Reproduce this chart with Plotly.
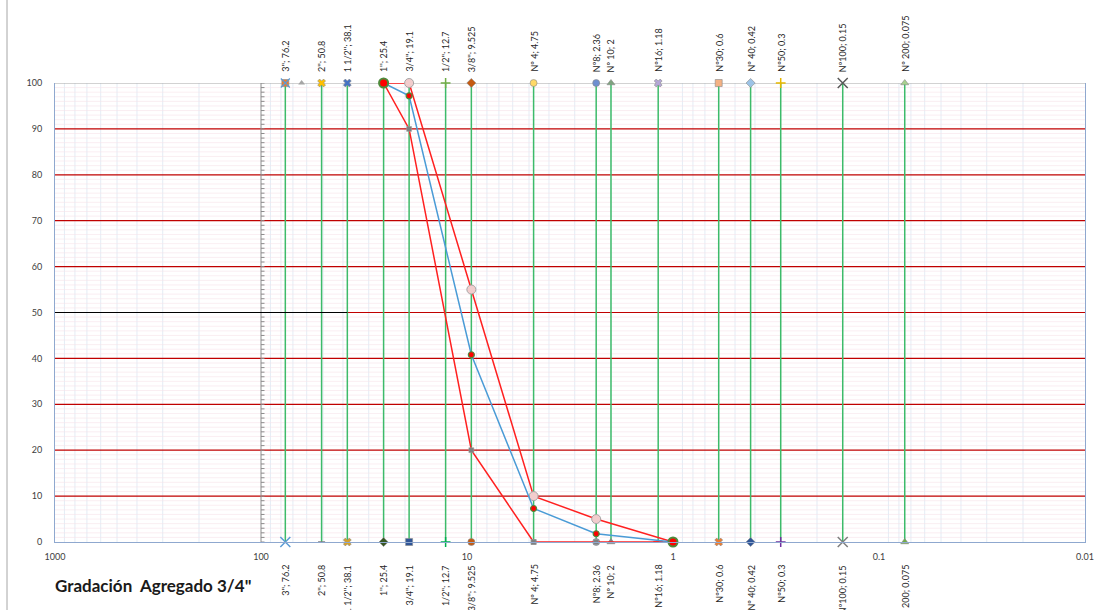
import math
import plotly.graph_objects as go

# ---------------- data ----------------
sieve_names = ["3''", "2''", "1 1/2''", "1''", "3/4''", "1/2''", "3/8''", "Nº 4", "Nº8",
               "Nº 10", "Nº16", "Nº30", "Nº 40", "Nº50", "Nº100", "Nº 200"]
sieve_mm = [76.2, 50.8, 38.1, 25.4, 19.1, 12.7, 9.525, 4.75, 2.36, 2, 1.18, 0.6, 0.42, 0.3, 0.15, 0.075]
extra_top_mm = [63.5]

curve_mm = [25.4, 19.1, 9.525, 4.75, 2.36, 1.0]
upper_limit = [100, 100, 55, 10, 5, 0]
lower_limit = [100, 90, 20, 0, 0, 0]
passing = [100, 97.2, 40.8, 7.3, 1.8, 0]

black_x = [1000, 38.1]
black_y = [50, 50]

x_ticks = [1000, 100, 10, 1, 0.1, 0.01]
x_ticktext = ["1000", "100", "10", "1", "0.1", "0.01"]
y_ticks = [0, 10, 20, 30, 40, 50, 60, 70, 80, 90, 100]

title_text = "Gradación&nbsp; Agregado 3/4\""

# ---------------- styles ----------------
FONT = "Lato, Liberation Sans, sans-serif"
top_sym = ["square", "x", "x", "circle", "circle", "cross-thin", "diamond", "circle", "circle",
           "triangle-up", "x", "square", "diamond", "cross-thin", "x-thin", "triangle-up"]
top_col = ["#ED7D31", "#FFC000", "#4472C4", "#70AD47", "#F4C7C3", "#70AD47", "#C55A11", "#FFD966",
           "#6F8FD0", "#7FA37F", "#B4A7D6", "#F4B183", "#9DC3E6", "#E6B800", "#595959", "#A9D18E"]
bot_sym = ["x-thin", "line-ew", "x", "diamond", "square", "cross-thin", "circle", "square", "circle",
           "triangle-up", "line-ew", "x", "diamond", "cross-thin", "x-thin", "triangle-up"]
bot_col = ["#5B9BD5", "#7F7F7F", "#D6A12B", "#375623", "#2F5597", "#00B050", "#C55A11", "#7F7F7F",
           "#8497B0", "#7F7F7F", "#FF0000", "#ED7D31", "#2F5597", "#7030A0", "#7F7F7F", "#70AD47"]

fig = go.Figure()

# minor vertical grid (2..9 per decade)
vx, vy = [], []
for e in range(-2, 3):
    for m in range(2, 10):
        v = m * 10 ** e
        vx += [v, v, None]
        vy += [0, 100, None]
fig.add_trace(go.Scatter(x=vx, y=vy, mode="lines", line=dict(color="#DDE7F3", width=0.8),
                         hoverinfo="skip", showlegend=False))

# minor horizontal grid every 1 unit
hx, hy = [], []
for k in range(1, 100):
    if k % 10:
        hx += [1000, 0.01, None]
        hy += [k, k, None]
fig.add_trace(go.Scatter(x=hx, y=hy, mode="lines", line=dict(color="#F7E3EA", width=0.6),
                         hoverinfo="skip", showlegend=False))

# major horizontal grid
mx, my = [], []
for k in y_ticks[1:-1]:
    mx += [1000, 0.01, None]
    my += [k, k, None]
fig.add_trace(go.Scatter(x=mx, y=my, mode="lines", line=dict(color="#C00000", width=1.2),
                         hoverinfo="skip", showlegend=False))

# top border (grey)
fig.add_trace(go.Scatter(x=[1000, 0.01], y=[100, 100], mode="lines",
                         line=dict(color="#A6A6A6", width=1.2), cliponaxis=False,
                         hoverinfo="skip", showlegend=False))

# secondary axis line at x=100 with ticks
ax_x, ax_y = [100, 100, None], [0, 100, None]
for k in range(0, 101):
    ax_x += [100, 100 * 10 ** (-3.5 / 206), None]
    ax_y += [k, k, None]
fig.add_trace(go.Scatter(x=ax_x, y=ax_y, mode="lines", line=dict(color="#8C8C8C", width=1),
                         hoverinfo="skip", showlegend=False))

# green sieve lines
gx, gy = [], []
for s in sieve_mm:
    gx += [s, s, None]
    gy += [0, 100, None]
fig.add_trace(go.Scatter(x=gx, y=gy, mode="lines", line=dict(color="#3DBB6A", width=1.5),
                         hoverinfo="skip", showlegend=False))

# black segment at 50
fig.add_trace(go.Scatter(x=black_x, y=black_y, mode="lines", line=dict(color="#000000", width=1.2),
                         hoverinfo="skip", showlegend=False))


def sym_marker(sym, col, size):
    thin = sym.endswith("-thin") or sym.startswith("line")
    if thin:
        return dict(symbol=sym, size=size, color=col, line=dict(color=col, width=1.5))
    return dict(symbol=sym, size=size, color=col, line=dict(color="#8a8a8a", width=0.6))


for i, s in enumerate(sieve_mm):
    sz = 10 if top_sym[i] == "x-thin" else 7
    fig.add_trace(go.Scatter(x=[s], y=[100], mode="markers", marker=sym_marker(top_sym[i], top_col[i], sz),
                             cliponaxis=False, hoverinfo="skip", showlegend=False))
    szb = 10 if bot_sym[i] == "x-thin" else 7
    if bot_sym[i] in ("line-ew", "square") and bot_col[i] == "#7F7F7F":
        szb = 5
    fig.add_trace(go.Scatter(x=[s], y=[0], mode="markers", marker=sym_marker(bot_sym[i], bot_col[i], szb),
                             cliponaxis=False, hoverinfo="skip", showlegend=False))
fig.add_trace(go.Scatter(x=[sieve_mm[0]], y=[100], mode="markers",
                         marker=dict(symbol="x-thin", size=9, line=dict(color="#5B9BD5", width=1.2)),
                         cliponaxis=False, hoverinfo="skip", showlegend=False))
fig.add_trace(go.Scatter(x=extra_top_mm, y=[100], mode="markers",
                         marker=dict(symbol="triangle-up", size=6, color="#A6A6A6"),
                         cliponaxis=False, hoverinfo="skip", showlegend=False))

# limits and gradation curve
fig.add_trace(go.Scatter(x=curve_mm, y=lower_limit, mode="lines+markers",
                         line=dict(color="#FF2020", width=1.5),
                         marker=dict(symbol="square", size=5, color="#7F7F7F",
                                     line=dict(color="#A0A0A0", width=0.5)),
                         cliponaxis=False, hoverinfo="skip", showlegend=False))
fig.add_trace(go.Scatter(x=curve_mm, y=upper_limit, mode="lines+markers",
                         line=dict(color="#FF2020", width=1.5),
                         marker=dict(symbol="circle", size=9, color="#F2CDCD",
                                     line=dict(color="#A6A6A6", width=1)),
                         cliponaxis=False, hoverinfo="skip", showlegend=False))
fig.add_trace(go.Scatter(x=curve_mm, y=passing, mode="lines+markers",
                         line=dict(color="#4A9BD6", width=1.5),
                         marker=dict(symbol="circle", size=6, color="#FF0000",
                                     line=dict(color="#4E8A3A", width=1.2)),
                         cliponaxis=False, hoverinfo="skip", showlegend=False))
fig.add_trace(go.Scatter(x=[curve_mm[0], curve_mm[-1]], y=[passing[0], passing[-1]], mode="markers",
                         marker=dict(symbol="circle", size=9, color="#FF0000",
                                     line=dict(color="#4E8A3A", width=2)),
                         cliponaxis=False, hoverinfo="skip", showlegend=False))

# labels
ann = []
for n, s in zip(sieve_names, sieve_mm):
    txt = f"{n}; {s:g}"
    ann.append(dict(x=math.log10(s), y=100, xref="x", yref="y", text=txt, showarrow=False,
                    textangle=-90, yanchor="bottom", xanchor="center", yshift=9,
                    font=dict(family=FONT, size=9, color="#262626")))
    ann.append(dict(x=math.log10(s), y=0, xref="x", yref="y", text=txt, showarrow=False,
                    textangle=-90, yanchor="top", xanchor="center", yshift=-21,
                    font=dict(family=FONT, size=9, color="#262626")))
ann.append(dict(x=-0.002, y=-0.094, xref="paper", yref="paper", text=title_text, showarrow=False,
                xanchor="left", yanchor="middle",
                font=dict(family=FONT, size=17, color="#1a1a1a", weight="bold")))

fig.update_layout(
    width=1099, height=610,
    autosize=False,
    margin=dict(l=55, r=14, t=83, b=68, autoexpand=False),
    paper_bgcolor="white", plot_bgcolor="white",
    annotations=ann,
    shapes=[dict(type="line", xref="paper", yref="paper", x0=-0.0466, x1=-0.0466, y0=-0.2, y1=1.3,
                 line=dict(color="#A6A6A6", width=1))],
    xaxis=dict(type="log", range=[3, -2], tickvals=x_ticks, ticktext=x_ticktext, automargin=False,
               showgrid=False, zeroline=False, showline=True, linecolor="#8FA8CF", linewidth=1,
               mirror=False, ticks="", ticklabelstandoff=6, ticklabeloverflow="allow",
               tickfont=dict(family=FONT, size=9, color="#404040")),
    yaxis=dict(range=[0, 100], tickvals=y_ticks, showgrid=False, zeroline=False, showline=True,
               automargin=False, linecolor="#8FA8CF", linewidth=1, mirror=True, ticks="",
               ticklabelstandoff=10,
               tickfont=dict(family=FONT, size=9, color="#404040")),
)

fig.write_html(
    "out.html",
    config={"displayModeBar": False},
    post_script="document.body.style.margin='0';document.body.style.overflow='hidden';",
)
